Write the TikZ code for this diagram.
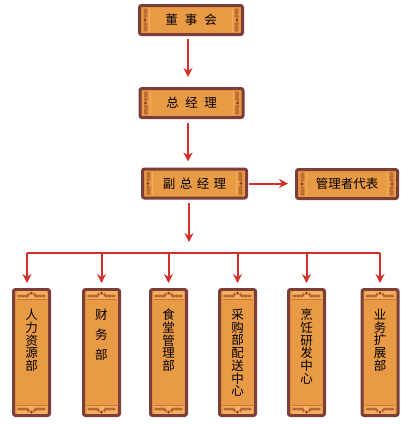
\documentclass[tikz,border=0pt]{standalone}
\usepackage{fontspec}
\newfontfamily\cjk{Noto Sans CJK SC}
\usetikzlibrary{arrows.meta,calc}
\definecolor{boxfill}{HTML}{E99A45}
\definecolor{boxline}{HTML}{7D3E37}
\definecolor{orn}{HTML}{B8652E}
\definecolor{ornl}{HTML}{F2B060}
\definecolor{ornd}{HTML}{8E3A28}
\definecolor{arr}{HTML}{D2302A}
\newcommand\hdeco[1]{%
  \foreach \s/\an in {1/west,-1/east}{%
    \draw[ornl,line width=0.8pt] ($(#1.\an)+(\s*11.5,-11.5)$) -- ($(#1.\an)+(\s*11.5,11.5)$);
    \foreach \dy in {-10,-7,-4,4,7,10}{\fill[orn!85!boxfill] ($(#1.\an)+(\s*7.5,\dy)$) ellipse (2.2 and 1.7);}
    \foreach \dy in {-8.5,-2.5,2.5,8.5}{\fill[orn] ($(#1.\an)+(\s*6.5,\dy)$) circle (0.9);}
    \fill[ornd] ($(#1.\an)+(\s*7,0)$) circle (1.6);
  }}
\newcommand\vdeco[1]{%
  \foreach \s/\an in {1/north,-1/south}{%
    \fill[ornl] ($(#1.\an)+(-15,\s*3)$) rectangle ($(#1.\an)+(15,\s*11)$);
    \draw[orn!70!boxfill,line width=0.8pt] ($(#1.\an)+(-15,\s*11.5)$) -- ($(#1.\an)+(15,\s*11.5)$);
    \foreach \dx in {-12,-8.5,-5,5,8.5,12}{\fill[orn] ($(#1.\an)+(\dx,\s*8)$) ellipse (2.2 and 1.5);}
    \foreach \dx in {-3,3}{\fill[orn] ($(#1.\an)+(\dx,\s*6.5)$) ellipse (1.6 and 1.8);}
    \fill[ornd] ($(#1.\an)+(0,\s*5)$) circle (1.5);
  }}
\begin{document}
\begin{tikzpicture}[x=1pt,y=-1pt,
  box/.style={draw=boxline,fill=boxfill,line width=3pt,rounded corners=2pt,inner sep=0pt},
  hbox/.style={box,minimum width=103pt,minimum height=29pt,font=\cjk\fontsize{12.5}{14}\selectfont},
  vbox/.style={box,minimum width=36pt,minimum height=126pt},
  vlbl/.style={font=\cjk\fontsize{12.5}{12.7}\selectfont,inner sep=0pt,align=center,anchor=north},
  conn/.style={draw=arr,line width=2pt},
  tip/.style={-{Stealth[length=9pt,width=9pt,inset=3pt]}}
]
\useasboundingbox (0,0) rectangle (414,424);
% top boxes
\node[hbox] (dsh) at (191,20) {};
\node[hbox] (zjl) at (191.5,103) {};
\node[hbox,minimum width=104pt] (fzjl) at (194.5,183.5) {};
\node[hbox,minimum width=101pt] (gl) at (347,184) {};
\hdeco{dsh}\hdeco{zjl}\hdeco{fzjl}\hdeco{gl}
\node[font=\cjk\fontsize{12.5}{14}\selectfont] (dshT) at (dsh) {董\hspace{7pt}事\hspace{7pt}会};
\node[font=\cjk\fontsize{12.5}{14}\selectfont] (zjlT) at (zjl) {总\hspace{6.5pt}经\hspace{6.5pt}理};
\node[font=\cjk\fontsize{12.5}{14}\selectfont] (fzjlT) at (fzjl) {副\hspace{4.5pt}总\hspace{4.5pt}经\hspace{4.5pt}理};
\node[font=\cjk\fontsize{12.5}{14}\selectfont] (glT) at (gl) {管理者代表};
% bottom boxes
\foreach \n/\x in {v1/31.5,v2/101.5,v3/168.5,v4/237.5,v5/306.5,v6/380}{
  \node[vbox] (\n) at (\x,352.5) {};
  \vdeco{\n}
}
\node[vlbl] (t1) at ($(v1.north)+(0,21)$) {人\\力\\资\\源\\部};
\node[vlbl] (t2) at ($(v2.north)+(0,21)$) {财\\[7pt]务\\[7pt]部};
\node[vlbl] (t3) at ($(v3.north)+(0,21)$) {食\\堂\\管\\理\\部};
\node[vlbl] (t4) at ($(v4.north)+(0,21)$) {采\\购\\部\\配\\送\\中\\心};
\node[vlbl] (t5) at ($(v5.north)+(0,21)$) {烹\\饪\\研\\发\\中\\心};
\node[vlbl] (t6) at ($(v6.north)+(0,21)$) {业\\务\\扩\\展\\部};
% connectors
\draw[conn,tip,shorten <=3pt,shorten >=10pt] ([xshift=-3pt]dsh.south) -- ([xshift=-3pt]dsh.south |- zjl.north);
\draw[conn,tip,shorten <=4pt,shorten >=6pt] ([xshift=-3.5pt]zjl.south) -- ([xshift=-3.5pt]zjl.south |- fzjl.north);
\draw[conn,tip,shorten <=1pt,shorten >=7pt] (fzjl.east) -- (fzjl.east -| gl.west);
\coordinate (ctip) at (189,242);
\coordinate (bus) at (189,253);
\draw[conn,tip,shorten <=3pt] ([xshift=-5.5pt]fzjl.south) -- (ctip);
\draw[conn] ([xshift=-4.5pt]v1.north |- bus) -- (v6.north |- bus);
\draw[conn,tip,shorten >=5pt] ([xshift=-4.5pt]v1.north |- bus) -- ([xshift=-4.5pt]v1.north);
\foreach \n in {v2,v3,v4,v5,v6}{
  \draw[conn,tip,shorten >=5pt] (\n.north |- bus) -- (\n.north);
}
\end{tikzpicture}
\end{document}
